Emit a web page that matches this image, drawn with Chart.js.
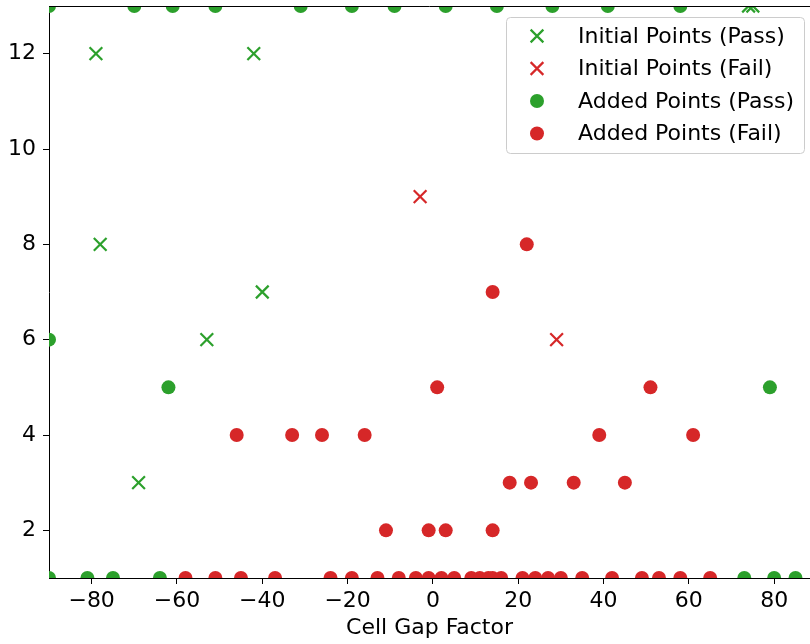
<!DOCTYPE html>
<html>
<head>
<meta charset="utf-8">
<script src="https://cdn.jsdelivr.net/npm/chart.js@4/dist/chart.umd.min.js"></script>
<style>
  html, body { margin: 0; padding: 0; background: #ffffff; }
  #wrap { width: 810px; height: 644px; }
</style>
</head>
<body>
<div id="wrap"><canvas id="chart" width="810" height="644"></canvas></div>
<script>
// Cell gap sweep: initial grid points and adaptively added points, split by pass/fail.
const initPassX = [-79, -42, -78, -40, -53, -69, 74, 75];
const initPassY = [12, 12, 8, 7, 6, 3, 13, 13];

const initFailX = [-3, 29];
const initFailY = [9, 6];

const addPassX = [-90, -70, -61, -51, -31, -19, -9, 3, 15, 28, 41, 58,
  -90, -62, 79,
  -90, -81, -75, -64, 73, 80, 85];
const addPassY = [13, 13, 13, 13, 13, 13, 13, 13, 13, 13, 13, 13,
  6, 5, 5,
  1, 1, 1, 1, 1, 1, 1];

const addFailX = [-46, -33, -26, -16, -11, -1, 3, 1, 14, 14, 22, 18, 23, 33, 39, 45, 51, 61,
  -58, -51, -45, -37, -24, -19, -13, -8, -4, -1, 2, 5, 9, 11, 13, 14, 16, 21, 24, 27, 30, 35,
  42, 49, 53, 58, 65];
const addFailY = [4, 4, 4, 4, 2, 2, 2, 5, 7, 2, 8, 3, 3, 3, 4, 3, 5, 4,
  1, 1, 1, 1, 1, 1, 1, 1, 1, 1, 1, 1, 1, 1, 1, 1, 1, 1, 1, 1, 1, 1,
  1, 1, 1, 1, 1];

const seriesLabels = ['Initial Points (Pass)', 'Initial Points (Fail)', 'Added Points (Pass)', 'Added Points (Fail)'];

const xTicks = [-80, -60, -40, -20, 0, 20, 40, 60, 80];
const yTicks = [2, 4, 6, 8, 10, 12];

const GREEN = '#2ca02c';
const RED = '#d62728';
const FONT = 'DejaVu Sans';
const FONT_SIZE = 22;

const toPoints = (xs, ys) => xs.map((x, i) => ({ x, y: ys[i] }));

function crossSet(label, xs, ys, color) {
  return {
    label,
    data: toPoints(xs, ys),
    pointStyle: 'crossRot',
    pointRadius: 9,
    pointBorderWidth: 2.2,
    borderColor: color,
    backgroundColor: color,
    clip: 0,
  };
}

function dotSet(label, xs, ys, color) {
  return {
    label,
    data: toPoints(xs, ys),
    pointStyle: 'circle',
    pointRadius: 7,
    pointBorderWidth: 0,
    borderColor: color,
    backgroundColor: color,
    clip: 0,
  };
}

// Legend box in the upper right of the plot, plus the top spine.
const boxLegendPlugin = {
  id: 'boxLegend',
  afterDraw(chart) {
    const { ctx, chartArea } = chart;
    ctx.save();
    ctx.strokeStyle = '#000000';
    ctx.lineWidth = 1;
    ctx.beginPath();
    ctx.moveTo(chartArea.left, chartArea.top + 0.5);
    ctx.lineTo(chartArea.right, chartArea.top + 0.5);
    ctx.stroke();

    const bx = 506.5, by = 17.5, bw = 298, bh = 136;
    ctx.beginPath();
    ctx.roundRect(bx, by, bw, bh, 4);
    ctx.fillStyle = 'rgba(255,255,255,0.8)';
    ctx.fill();
    ctx.strokeStyle = '#cccccc';
    ctx.stroke();

    const rowY = [36, 68.5, 101, 133.5];
    ctx.font = `${FONT_SIZE}px "${FONT}"`;
    ctx.textBaseline = 'middle';
    ctx.textAlign = 'left';
    chart.data.datasets.forEach((ds, i) => {
      ctx.fillStyle = ds.backgroundColor;
      ctx.strokeStyle = ds.borderColor;
      ctx.lineWidth = ds.pointBorderWidth;
      Chart.helpers.drawPoint(ctx, {
        pointStyle: ds.pointStyle,
        radius: ds.pointRadius,
        borderWidth: ds.pointBorderWidth,
        rotation: 0,
      }, 537, rowY[i]);
      ctx.fillStyle = '#000000';
      ctx.fillText(ds.label, 578, rowY[i] + 1);
    });
    ctx.restore();
  },
};

new Chart(document.getElementById('chart'), {
  type: 'scatter',
  data: {
    datasets: [
      crossSet(seriesLabels[0], initPassX, initPassY, GREEN),
      crossSet(seriesLabels[1], initFailX, initFailY, RED),
      dotSet(seriesLabels[2], addPassX, addPassY, GREEN),
      dotSet(seriesLabels[3], addFailX, addFailY, RED),
    ],
  },
  plugins: [boxLegendPlugin],
  options: {
    responsive: false,
    devicePixelRatio: 1,
    animation: false,
    events: [],
    layout: { autoPadding: false, padding: { top: 6, right: 0, left: 0, bottom: 0 } },
    plugins: {
      legend: { display: false },
      tooltip: { enabled: false },
    },
    scales: {
      x: {
        type: 'linear',
        min: -90,
        max: 88.4,
        afterBuildTicks: (scale) => { scale.ticks = xTicks.map((value) => ({ value })); },
        afterFit: (scale) => {
          scale.height = 66;
          scale.paddingLeft = 0;
          scale.paddingRight = 0;
        },
        ticks: {
          color: '#000000',
          font: { family: FONT, size: FONT_SIZE },
          padding: 4,
          maxRotation: 0,
          callback: (v) => (v < 0 ? '\u2212' + Math.abs(v) : String(v)),
        },
        grid: { display: true, drawOnChartArea: false, drawTicks: true, tickLength: 6, color: '#000000', lineWidth: 1 },
        border: { display: true, color: '#000000', width: 1 },
        title: {
          display: true,
          text: 'Cell Gap Factor',
          color: '#000000',
          font: { family: FONT, size: FONT_SIZE },
          padding: { top: 0, bottom: 3 },
        },
      },
      y: {
        type: 'linear',
        min: 1,
        max: 13,
        afterBuildTicks: (scale) => { scale.ticks = yTicks.map((value) => ({ value })); },
        afterFit: (scale) => {
          scale.width = 49;
          scale.paddingTop = 0;
          scale.paddingBottom = 0;
        },
        ticks: {
          color: '#000000',
          font: { family: FONT, size: FONT_SIZE },
          padding: 7,
        },
        grid: { display: true, drawOnChartArea: false, drawTicks: true, tickLength: 6, color: '#000000', lineWidth: 1 },
        border: { display: true, color: '#000000', width: 1 },
      },
    },
  },
});
</script>
</body>
</html>
